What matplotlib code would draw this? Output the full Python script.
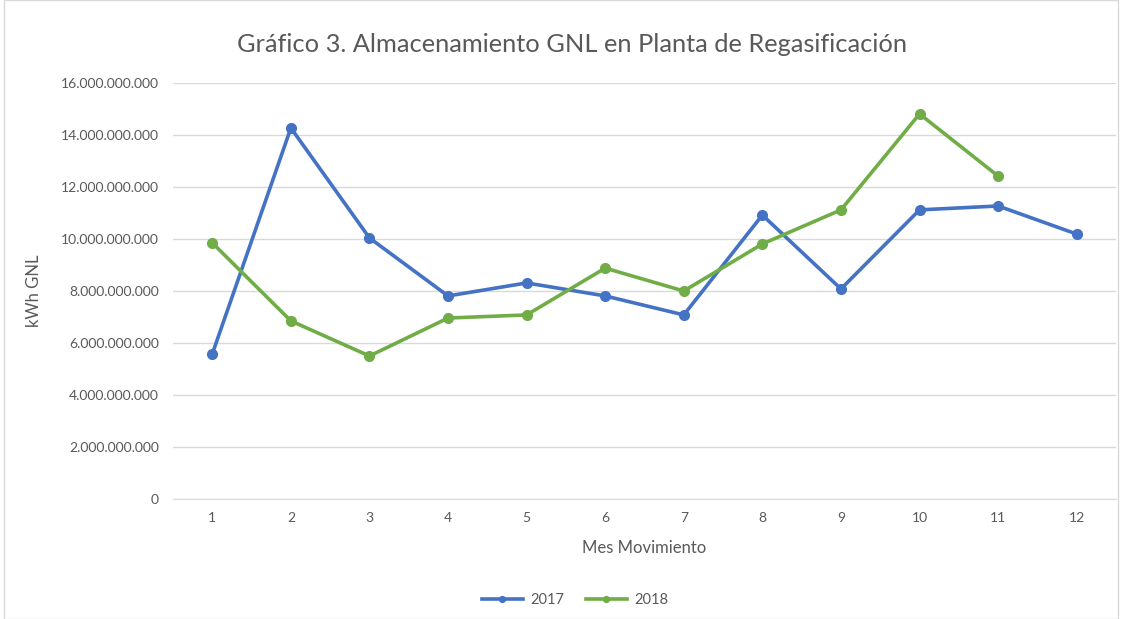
import matplotlib
matplotlib.use("Agg")
import matplotlib.pyplot as plt
from matplotlib.ticker import FuncFormatter, MultipleLocator
from matplotlib.patches import Rectangle

months = list(range(1, 13))
v2017 = [5.58e9, 14.27e9, 10.04e9, 7.81e9, 8.31e9, 7.81e9, 7.08e9, 10.92e9, 8.08e9, 11.12e9, 11.27e9, 10.19e9]
months_2018 = list(range(1, 12))
v2018 = [9.85e9, 6.85e9, 5.50e9, 6.96e9, 7.08e9, 8.88e9, 8.00e9, 9.81e9, 11.12e9, 14.81e9, 12.42e9]

title = "Gráfico 3. Almacenamiento GNL en Planta de Regasificación"
xlabel = "Mes Movimiento"
ylabel = "kWh GNL"

plt.rcParams['font.family'] = ['Lato', 'DejaVu Sans']

fig = plt.figure(figsize=(11.3, 6.19), dpi=100)
ax = fig.add_axes([173/1130, 1-499/619, (1116-173)/1130, (499-83)/619])

ax.plot(months, v2017, color='#4472C4', lw=2.6, marker='o', ms=7, label='2017', zorder=3)
ax.plot(months_2018, v2018, color='#70AD47', lw=2.6, marker='o', ms=7, label='2018', zorder=3)

ax.set_xlim(0.5, 12.5)
ax.set_ylim(0, 16e9)
ax.yaxis.set_major_locator(MultipleLocator(2e9))
ax.set_xticks(months)
ax.yaxis.set_major_formatter(FuncFormatter(lambda v, p: f"{int(round(v)):,}".replace(',', '.')))
ax.grid(axis='y', color='#D9D9D9', lw=1)
ax.set_axisbelow(True)
for s in ['top', 'right', 'left']:
    ax.spines[s].set_visible(False)
ax.spines['bottom'].set_color('#D9D9D9')
ax.tick_params(axis='both', length=0, labelsize=10, colors='#595959', pad=10)
ax.tick_params(axis='x', pad=9)

ax.set_xlabel(xlabel, fontsize=12, color='#595959', labelpad=12)
ax.set_ylabel(ylabel, fontsize=12, color='#595959', labelpad=14)
fig.text(572/1130, 1-45/619, title, ha='center', va='center', fontsize=18.3, color='#595959')

leg = fig.legend(loc='center', bbox_to_anchor=(575/1130, 1-600/619), ncol=2, frameon=False,
                 fontsize=10.5, labelcolor='#595959', handlelength=2.8, handletextpad=0.5,
                 columnspacing=1.5, markerscale=0.6)

fig.add_artist(Rectangle((4/1130, 0), (1118-4)/1130, 1, transform=fig.transFigure,
                         fill=False, edgecolor='#D9D9D9', lw=1))

fig.savefig('out.png', dpi=100)
